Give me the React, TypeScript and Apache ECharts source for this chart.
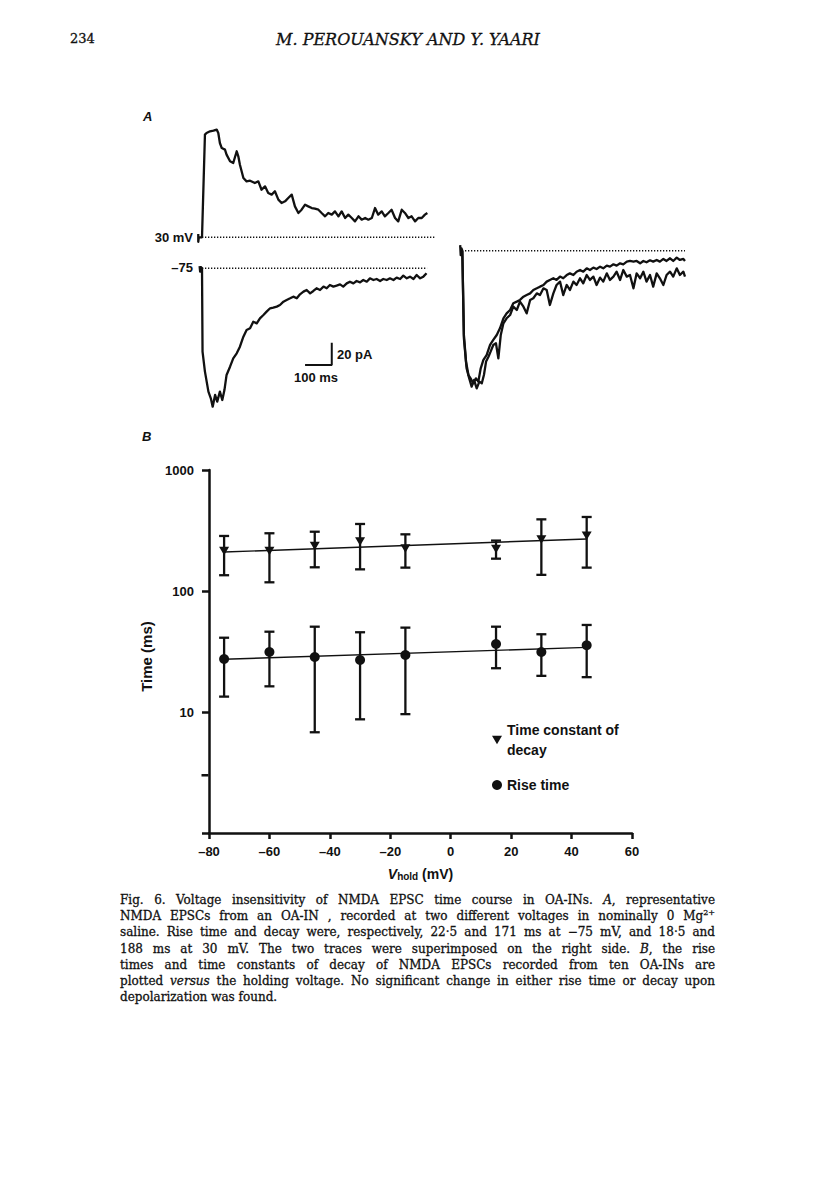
import React, { useEffect, useRef } from "react";
import * as echarts from "echarts";

// ---------- Panel B data ----------
const voltages = [-75, -60, -45, -30, -15, 15, 30, 45];
const decayMean = [214, 214, 235, 256, 225, 222, 267, 286];
const decayLow = [135, 118, 157, 151, 156, 185, 136, 156];
const decayHigh = [285, 300, 309, 358, 294, 261, 391, 409];
const riseMean = [27.4, 31.3, 28.5, 26.9, 29.6, 36.5, 31.3, 35.6];
const riseLow = [13.4, 16.3, 6.8, 8.7, 9.6, 23.0, 19.9, 19.4];
const riseHigh = [41.1, 46.1, 50.7, 45.6, 49.8, 50.7, 43.9, 52.4];
const fitX = [-75, 45];
const decayFit = [210, 269];
const riseFit = [27.3, 34.2];
const minorTickValue = [[-80, 3]];

// ---------- Panel A data (time ms, current pA) ----------
const trace30mV: number[][] = [
  [-14, 3], [-14, -4], [-12, 0], [0, 0], [11, 91.9], [17, 93.4], [30, 94.9], [43, 95.5], [55, 96.4],
  [61, 93.4], [67, 84.4], [74, 79.9], [86, 78.5], [92, 74.0], [105, 68.0], [117, 66.5], [130, 77.0],
  [136, 72.5], [142, 65.0], [155, 53.1], [167, 50.1], [180, 50.7], [198, 48.6], [211, 50.1],
  [223, 42.6], [236, 45.6], [248, 39.7], [261, 38.2], [273, 41.2], [286, 33.7], [298, 30.7],
  [311, 32.2], [323, 35.2], [336, 38.2], [348, 27.7], [361, 21.8], [373, 24.7], [386, 29.2],
  [398, 27.7], [411, 26.2], [423, 25.6], [436, 24.7], [448, 21.8], [461, 18.8], [473, 21.8],
  [486, 20.3], [498, 23.2], [511, 18.8], [523, 23.2], [536, 17.3], [548, 20.3], [561, 17.3],
  [573, 14.3], [586, 18.8], [598, 15.8], [611, 17.3], [623, 15.8], [636, 17.3], [648, 26.2],
  [660, 20.3], [673, 23.2], [685, 18.8], [698, 21.8], [710, 24.7], [723, 17.3], [735, 14.3],
  [748, 24.7], [760, 21.8], [773, 17.3], [785, 18.8], [798, 14.3], [810, 17.3], [823, 17.3],
  [835, 20.3], [844, 21.8]
];
const traceMinus75: number[][] = [
  [-9, 2], [-7, -3], [-4, 1], [0, 0], [2, -74.6], [11, -92.5], [24, -110.4], [33, -116.4],
  [40, -123.9], [49, -113.4], [57, -119.4], [67, -110.4], [76, -117.9], [84, -109.0], [92, -95.5],
  [105, -88.1], [117, -80.6], [130, -76.1], [142, -70.2], [155, -61.2], [167, -55.2], [180, -53.7],
  [192, -47.8], [205, -49.3], [217, -44.8], [230, -41.8], [242, -38.8], [255, -35.8], [267, -35.2],
  [280, -34.3], [292, -32.9], [305, -29.9], [317, -28.4], [330, -26.9], [342, -25.4], [355, -26.9],
  [367, -23.3], [380, -20.9], [392, -19.4], [405, -22.4], [417, -20.3], [429, -17.9], [442, -19.4],
  [455, -16.4], [467, -17.9], [479, -15.0], [492, -16.4], [504, -15.5], [517, -14.4], [529, -16.4],
  [542, -13.5], [554, -12.0], [567, -13.5], [579, -11.4], [592, -12.6], [604, -10.5], [617, -12.0],
  [629, -9.0], [642, -10.5], [654, -9.6], [667, -11.4], [679, -9.6], [692, -10.5], [704, -9.0],
  [717, -10.5], [729, -8.4], [742, -9.6], [754, -6.6], [767, -9.0], [779, -7.5], [792, -9.6],
  [804, -6.0], [817, -9.0], [829, -7.5], [841, -4.5]
];
const superMinus75: number[][] = [
  [-8, 5], [-6, -4], [-3, 2], [0, 0], [6, -75.5], [14, -99.3], [23, -111.3], [31, -114.3],
  [41, -118.7], [51, -114.3], [60, -117.2], [69, -105.3], [79, -97.8], [91, -93.4], [104, -84.4],
  [116, -79.9], [129, -75.5], [141, -69.5], [154, -60.5], [166, -56.1], [179, -53.1], [191, -47.1],
  [204, -45.6], [216, -44.1], [229, -41.2], [241, -39.7], [254, -38.2], [266, -35.2], [279, -33.7],
  [291, -32.2], [304, -30.7], [316, -27.7], [328, -26.2], [341, -24.7], [353, -26.2], [366, -23.2],
  [378, -24.7], [391, -21.8], [403, -20.3], [416, -21.8], [428, -18.8], [441, -17.3], [453, -18.8],
  [466, -15.8], [478, -17.3], [491, -15.2], [503, -16.4], [516, -14.3], [528, -15.8], [541, -13.4],
  [553, -14.3], [566, -12.2], [578, -13.4], [591, -11.3], [603, -12.2], [616, -9.8], [628, -9.2],
  [641, -9.8], [653, -9.2], [666, -11.3], [678, -9.2], [690, -10.4], [703, -8.6], [715, -9.8],
  [728, -8.3], [740, -9.8], [753, -7.4], [765, -9.2], [778, -6.8], [790, -9.2], [803, -6.2],
  [815, -8.3], [828, -7.4], [834, -9.2]
];
const super30mV: number[][] = [
  [0, 0], [6, -78.5], [16, -105.3], [26, -114.3], [35, -121.7], [44, -115.8], [54, -123.2],
  [64, -117.2], [73, -118.7], [81, -111.3], [89, -99.3], [98, -94.9], [106, -90.4], [116, -84.4],
  [126, -82.9], [135, -96.4], [144, -75.5], [154, -65.0], [166, -60.5], [179, -57.6], [191, -50.1],
  [204, -53.1], [216, -45.6], [229, -50.1], [241, -56.1], [254, -44.1], [266, -42.6], [279, -38.2],
  [291, -39.7], [304, -33.7], [316, -35.2], [328, -48.6], [341, -38.2], [353, -30.7], [366, -27.7],
  [378, -39.7], [391, -30.7], [403, -35.2], [416, -27.7], [428, -30.7], [441, -24.7], [453, -29.2],
  [466, -21.8], [478, -26.2], [491, -23.2], [503, -30.7], [516, -24.1], [528, -27.7], [541, -20.3],
  [553, -26.2], [566, -23.2], [578, -18.8], [591, -26.2], [603, -17.3], [616, -23.2], [628, -21.8],
  [641, -33.7], [653, -20.3], [666, -24.7], [678, -18.8], [690, -27.7], [703, -21.8], [715, -32.2],
  [728, -20.3], [740, -24.7], [753, -30.7], [765, -21.8], [778, -18.8], [790, -23.2], [803, -15.8],
  [815, -21.8], [828, -18.8], [834, -23.2]
];
const baseline30mV = [[0, 0], [876, 0]];
const baselineMinus75 = [[0, 0], [843, 0]];
const baselineSuper = [[10, 0], [834, 0]];
const scaleBarTime = [386, 486]; // 100 ms
const scaleBarCurrent = [-86.6, -66.6]; // 20 pA

const SANS = "'Liberation Sans', Arial, Helvetica, sans-serif";
const INK = "#111111";
const decayName = "Time constant of\ndecay";
const riseName = "Rise time";
const triPath = "path://M0,0 L10,0 L5,8.5 Z";

function traceSeries(data: number[][], idx: number, width = 2.3) {
  return {
    type: "line",
    xAxisIndex: idx,
    yAxisIndex: idx,
    data,
    showSymbol: false,
    silent: true,
    lineStyle: { color: INK, width, join: "round" },
    z: 3,
  };
}
function baselineSeries(data: number[][], idx: number) {
  return {
    type: "line",
    xAxisIndex: idx,
    yAxisIndex: idx,
    data,
    showSymbol: false,
    silent: true,
    lineStyle: { color: INK, width: 1.5, type: [1.3, 1.7] },
    z: 2,
  };
}
function errorSeries(mid: number[], lo: number[], hi: number[]) {
  return {
    type: "custom",
    xAxisIndex: 3,
    yAxisIndex: 3,
    silent: true,
    data: voltages.map((v, i) => [v, lo[i], hi[i], mid[i]]),
    encode: { x: 0, y: [1, 2] },
    renderItem: (params: any, api: any) => {
      const x = api.value(0);
      const a = api.coord([x, api.value(1)]);
      const b = api.coord([x, api.value(2)]);
      const hw = 5;
      const st = { stroke: INK, lineWidth: 2.3 };
      return {
        type: "group",
        children: [
          { type: "line", shape: { x1: a[0], y1: a[1], x2: b[0], y2: b[1] }, style: st },
          { type: "line", shape: { x1: a[0] - hw, y1: a[1], x2: a[0] + hw, y2: a[1] }, style: st },
          { type: "line", shape: { x1: b[0] - hw, y1: b[1], x2: b[0] + hw, y2: b[1] }, style: st },
        ],
      };
    },
    z: 4,
  };
}

export default function App() {
  const ref = useRef<HTMLDivElement>(null);
  useEffect(() => {
    if (!ref.current) return;
    const chart = echarts.init(ref.current, undefined, { renderer: "svg", width: 816, height: 1204 });
    const hiddenX = (i: number) => ({ gridIndex: i, type: "value", min: -15, max: 900, show: false });
    const axisText = { color: INK, fontFamily: SANS, fontWeight: "bold", fontSize: 13 };
    const option: any = {
      animation: false,
      backgroundColor: "#ffffff",
      grid: [
        { left: 198, top: 120, width: 244.3, height: 122.9 },
        { left: 198, top: 262.7, width: 244.3, height: 150.8 },
        { left: 458.3, top: 245.1, width: 244.3, height: 150.8 },
        { left: 209, top: 470, width: 423, height: 363 },
      ],
      xAxis: [
        hiddenX(0),
        hiddenX(1),
        hiddenX(2),
        {
          gridIndex: 3,
          type: "value",
          min: -80,
          max: 60,
          interval: 20,
          axisLine: { show: true, onZero: false, lineStyle: { color: INK, width: 2.5 } },
          axisTick: { show: true, length: 6, lineStyle: { color: INK, width: 2.5 } },
          axisLabel: {
            ...axisText,
            margin: 12,
            formatter: (v: number) => (v < 0 ? "\u2013" + Math.abs(v) : String(v)),
          },
          splitLine: { show: false },
          name: "{v|V}{s|hold}{n| (mV)}",
          nameLocation: "middle",
          nameGap: 30,
          nameTextStyle: {
            rich: {
              v: { fontFamily: SANS, fontStyle: "italic", fontWeight: "bold", fontSize: 14, color: INK, lineHeight: 18, verticalAlign: "bottom" },
              s: { fontFamily: SANS, fontWeight: "bold", fontSize: 10, color: INK, lineHeight: 13, verticalAlign: "bottom" },
              n: { fontFamily: SANS, fontWeight: "bold", fontSize: 14, color: INK, lineHeight: 18, verticalAlign: "bottom" },
            },
          },
        },
      ],
      yAxis: [
        { gridIndex: 0, type: "value", min: -5, max: 105, show: false },
        { gridIndex: 1, type: "value", min: -130, max: 5, show: false },
        { gridIndex: 2, type: "value", min: -130, max: 5, show: false },
        {
          gridIndex: 3,
          type: "log",
          logBase: 10,
          min: 1,
          max: 1000,
          axisLine: { show: true, onZero: false, lineStyle: { color: INK, width: 2.5 } },
          axisTick: { show: true, length: 7, lineStyle: { color: INK, width: 2.5 } },
          minorTick: { show: false },
          axisLabel: {
            ...axisText,
            margin: 15,
            formatter: (v: number) => (Math.abs(v - 1) < 1e-6 ? "" : String(Math.round(v))),
          },
          splitLine: { show: false },
          name: "Time (ms)",
          nameLocation: "middle",
          nameGap: 46,
          nameTextStyle: { color: INK, fontFamily: SANS, fontWeight: "bold", fontSize: 15, padding: [0, 0, 0, -10] },
        },
      ],
      legend: [
        {
          data: [{ name: decayName, icon: triPath, itemStyle: { color: INK, opacity: 1 } }],
          left: 492,
          top: 720,
          orient: "vertical",
          padding: 0,
          itemWidth: 10,
          itemHeight: 10,
          selectedMode: false,
          textStyle: { color: INK, fontFamily: SANS, fontWeight: "bold", fontSize: 14, lineHeight: 20 },
        },
        {
          data: [{ name: riseName, icon: "circle", itemStyle: { color: INK, opacity: 1 } }],
          left: 492,
          top: 775,
          orient: "vertical",
          padding: 0,
          itemWidth: 10,
          itemHeight: 10,
          selectedMode: false,
          textStyle: { color: INK, fontFamily: SANS, fontWeight: "bold", fontSize: 14, lineHeight: 20 },
        },
      ],
      series: [
        baselineSeries(baseline30mV, 0),
        traceSeries(trace30mV, 0),
        baselineSeries(baselineMinus75, 1),
        traceSeries(traceMinus75, 1),
        {
          type: "line",
          xAxisIndex: 1,
          yAxisIndex: 1,
          data: [
            [scaleBarTime[0], scaleBarCurrent[0]],
            [scaleBarTime[1], scaleBarCurrent[0]],
            [scaleBarTime[1], scaleBarCurrent[1]],
          ],
          showSymbol: false,
          silent: true,
          lineStyle: { color: INK, width: 2 },
        },
        baselineSeries(baselineSuper, 2),
        traceSeries(superMinus75, 2),
        traceSeries(super30mV, 2),
        errorSeries(decayMean, decayLow, decayHigh),
        errorSeries(riseMean, riseLow, riseHigh),
        {
          type: "line",
          xAxisIndex: 3,
          yAxisIndex: 3,
          data: fitX.map((x, i) => [x, decayFit[i]]),
          showSymbol: false,
          silent: true,
          lineStyle: { color: INK, width: 1.4 },
          z: 3,
        },
        {
          type: "line",
          xAxisIndex: 3,
          yAxisIndex: 3,
          data: fitX.map((x, i) => [x, riseFit[i]]),
          showSymbol: false,
          silent: true,
          lineStyle: { color: INK, width: 1.4 },
          z: 3,
        },
        {
          name: decayName,
          type: "scatter",
          xAxisIndex: 3,
          yAxisIndex: 3,
          symbol: triPath,
          symbolSize: [10, 8.5],
          itemStyle: { color: INK, opacity: 1 },
          data: voltages.map((v, i) => [v, decayMean[i]]),
          z: 5,
        },
        {
          name: riseName,
          type: "scatter",
          xAxisIndex: 3,
          yAxisIndex: 3,
          symbol: "circle",
          symbolSize: 10,
          itemStyle: { color: INK, opacity: 1 },
          data: voltages.map((v, i) => [v, riseMean[i]]),
          z: 5,
        },
        {
          type: "scatter",
          xAxisIndex: 3,
          yAxisIndex: 3,
          symbol: "rect",
          symbolSize: [7, 2.5],
          symbolOffset: [-4, 0],
          clip: false,
          silent: true,
          itemStyle: { color: INK, opacity: 1 },
          data: minorTickValue,
        },
      ],
      graphic: [
        { type: "text", left: 143, top: 110, style: { text: "A", fill: INK, font: `italic bold 13px ${SANS}` } },
        { type: "text", left: 142, top: 430, style: { text: "B", fill: INK, font: `italic bold 13px ${SANS}` } },
        { type: "text", x: 193, y: 237, style: { text: "30 mV", fill: INK, font: `bold 13px ${SANS}`, align: "right", verticalAlign: "middle" } },
        { type: "text", x: 193, y: 267, style: { text: "\u201375", fill: INK, font: `bold 13px ${SANS}`, align: "right", verticalAlign: "middle" } },
        { type: "text", x: 337, y: 354, style: { text: "20 pA", fill: INK, font: `bold 13px ${SANS}`, align: "left", verticalAlign: "middle" } },
        { type: "text", x: 316, y: 377, style: { text: "100 ms", fill: INK, font: `bold 13px ${SANS}`, align: "center", verticalAlign: "middle" } },
      ],
    };
    chart.setOption(option);
    return () => chart.dispose();
  }, []);

  const serif = "'DejaVu Serif', 'Liberation Serif', serif";
  const lineStyle: React.CSSProperties = {
    height: 16.2,
    lineHeight: "16.2px",
    textAlign: "justify",
    textAlignLast: "justify",
    whiteSpace: "nowrap",
  };
  return (
    <div style={{ position: "absolute", left: 0, top: 0, width: 816, height: 1204, background: "#fff" }}>
      <div ref={ref} style={{ position: "absolute", left: 0, top: 0, width: 816, height: 1204 }} />
      <div style={{ position: "absolute", left: 70, top: 31, fontFamily: serif, fontSize: 13, color: INK, WebkitTextStroke: "0.3px #111" }}>234</div>
      <div style={{ position: "absolute", left: 0, top: 30, width: 816, textAlign: "center", fontFamily: serif, fontStyle: "italic", fontSize: 16, color: INK, WebkitTextStroke: "0.3px #111" }}>
        M. PEROUANSKY AND Y. YAARI
      </div>
      <div style={{ position: "absolute", left: 120, top: 892, width: 595, fontFamily: serif, fontSize: 12, color: INK, WebkitTextStroke: "0.3px #111" }}>
        <div style={lineStyle}>Fig. 6. Voltage insensitivity of NMDA EPSC time course in OA-INs. <i>A</i>, representative</div>
        <div style={lineStyle}>NMDA EPSCs from an OA-IN , recorded at two different voltages in nominally 0 Mg<sup style={{ fontSize: 8, lineHeight: 0 }}>2+</sup></div>
        <div style={lineStyle}>saline. Rise time and decay were, respectively, 22·5 and 171 ms at −75 mV, and 18·5 and</div>
        <div style={lineStyle}>188 ms at 30 mV. The two traces were superimposed on the right side. <i>B</i>, the rise</div>
        <div style={lineStyle}>times and time constants of decay of NMDA EPSCs recorded from ten OA-INs are</div>
        <div style={lineStyle}>plotted <i>versus</i> the holding voltage. No significant change in either rise time or decay upon</div>
        <div style={{ ...lineStyle, textAlign: "left", textAlignLast: "left" }}>depolarization was found.</div>
      </div>
    </div>
  );
}
